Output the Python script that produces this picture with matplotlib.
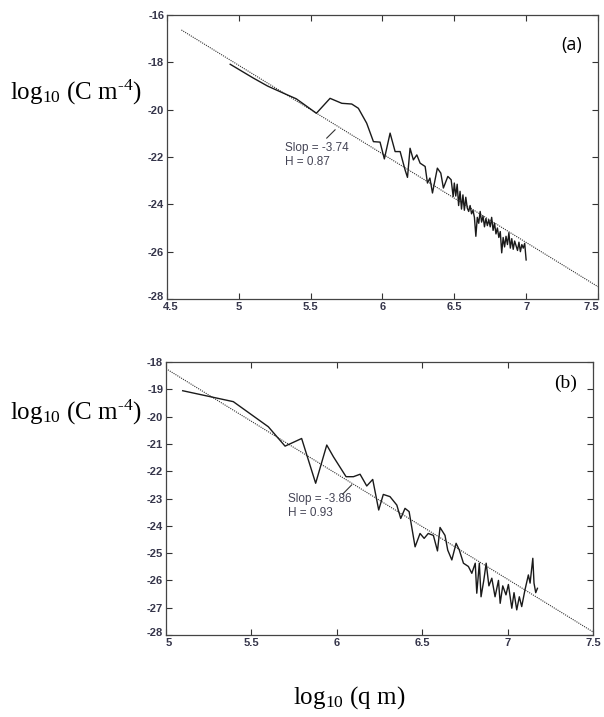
import matplotlib
matplotlib.use("Agg")
import matplotlib.pyplot as plt
import matplotlib.transforms as mtransforms

plt.rcParams['mathtext.fontset'] = 'custom'
plt.rcParams['mathtext.rm'] = 'Liberation Serif'
plt.rcParams['mathtext.it'] = 'Liberation Serif:italic'
plt.rcParams['axes.unicode_minus'] = False

qa = [4.94, 5.10, 5.20, 5.31, 5.40, 5.54, 5.635, 5.717, 5.786, 5.832, 5.89,
      5.937, 5.983, 6.013, 6.053, 6.088, 6.123, 6.157, 6.174, 6.192, 6.215,
      6.239, 6.262, 6.297, 6.313, 6.33, 6.348, 6.366, 6.382, 6.406, 6.424,
      6.455, 6.478, 6.492,
      6.50, 6.51, 6.52, 6.53, 6.54, 6.55, 6.56, 6.57, 6.58, 6.59, 6.60,
      6.61, 6.62, 6.63, 6.64, 6.65, 6.66, 6.67, 6.68, 6.69, 6.70, 6.71,
      6.72, 6.73, 6.74, 6.75, 6.76, 6.77, 6.78, 6.79, 6.80, 6.81, 6.82,
      6.83, 6.84, 6.85, 6.86, 6.87, 6.88, 6.89, 6.90, 6.91, 6.92, 6.93,
      6.94, 6.95, 6.96, 6.97, 6.98, 6.99, 7.00]
ca = [-18.08, -18.66, -19.00, -19.30, -19.54, -20.15, -19.52, -19.73, -19.76,
      -19.94, -20.57, -21.35, -21.37, -22.08, -20.99, -21.77, -21.77, -22.54,
      -22.86, -21.63, -22.12, -21.91, -22.26, -22.40, -23.10, -22.89, -23.52,
      -22.96, -22.47, -22.68, -23.31, -22.82, -22.96, -23.67,
      -23.10, -23.65, -23.15, -24.05, -23.45, -24.20, -23.60, -24.25, -23.70,
      -24.15, -24.30, -24.05, -24.40, -24.25, -24.55, -25.35, -24.55, -24.80,
      -24.30, -24.75, -24.50, -24.95, -24.60, -24.90, -24.65, -24.95, -24.55,
      -25.10, -24.80, -25.25, -25.00, -25.40, -25.15, -26.05, -25.40, -25.80,
      -25.35, -25.70, -25.20, -25.85, -25.45, -25.90, -25.55, -25.75, -25.95,
      -25.60, -26.00, -25.70, -25.85, -25.65, -26.35]

# Panel (b)
qb = [5.098, 5.394, 5.599, 5.697, 5.794, 5.876, 5.941, 5.980, 6.054, 6.097,
      6.136, 6.175, 6.210, 6.245, 6.272, 6.311, 6.351, 6.374, 6.399, 6.423,
      6.458, 6.487, 6.511, 6.535, 6.565, 6.589, 6.604, 6.633, 6.649, 6.673,
      6.698, 6.717, 6.741, 6.770, 6.790, 6.810, 6.819, 6.834, 6.844, 6.860,
      6.874, 6.890, 6.907, 6.926, 6.946, 6.956, 6.971, 6.990, 7.004, 7.024,
      7.037, 7.053, 7.068, 7.082, 7.101, 7.121, 7.131, 7.147, 7.154, 7.164,
      7.174]
cb = [-19.05, -19.45, -20.37, -21.08, -20.80, -22.44, -21.04, -21.47, -22.20,
      -22.20, -22.11, -22.54, -22.30, -23.42, -22.85, -22.93, -23.24, -23.73,
      -23.36, -23.48, -24.77, -24.28, -24.46, -24.28, -24.35, -24.92, -24.06,
      -24.35, -24.89, -25.25, -24.64, -24.89, -25.37, -25.49, -25.74, -25.37,
      -26.47, -25.37, -26.60, -26.00, -25.37, -26.20, -25.92, -26.60, -26.00,
      -26.84, -26.20, -26.53, -26.15, -27.02, -26.45, -27.08, -26.60, -26.96,
      -26.35, -25.80, -26.10, -25.19, -26.10, -26.45, -26.29]

# Fitted lines (end points)
fit_a_x = [4.6, 7.5]
fit_a_y = [-16.63, -27.48]
fit_b_x = [5.0, 7.5]
fit_b_y = [-18.24, -27.89]

tick_color = '#35354a'
ylab = r'log$_{10}$ (C m$^{\text{-4}}$)'


def style_axes(ax):
    ax.tick_params(direction='in', top=True, right=True, length=4,
                   labelsize=8, colors='#333333', labelcolor=tick_color, pad=2)
    for lab in ax.get_xticklabels() + ax.get_yticklabels():
        lab.set_fontweight('bold')
        lab.set_family('Liberation Sans')
    for s in ax.spines.values():
        s.set_color('#444444')
        s.set_linewidth(0.9)


def nudge(fig, label, dx, dy):
    # shift a tick label by a few pixels
    off = mtransforms.ScaledTranslation(dx / 100, dy / 100, fig.dpi_scale_trans)
    label.set_transform(label.get_transform() + off)


fig = plt.figure(figsize=(6.04, 7.17), dpi=100)

# (a)
ax1 = fig.add_axes([0.2765, 0.583, 0.7135, 0.396])
ax1.plot(fit_a_x, fit_a_y, color='#333333', lw=0.8, ls=(0, (1, 1)))
ax1.plot(qa, ca, color='#1a1a1a', lw=1.0)
ax1.set_xlim(4.5, 7.5)
ax1.set_ylim(-28, -16)
ax1.set_xticks([4.5, 5, 5.5, 6, 6.5, 7, 7.5])
ax1.set_xticklabels(['4.5', '5', '5.5', '6', '6.5', '7', '7.5'])
ax1.set_yticks(range(-28, -15, 2))
ax1.plot([5.612, 5.67], [-21.20, -20.85], color='#333333', lw=0.8)
ax1.text(5.32, -21.6, 'Slop = -3.74', fontsize=8.5, color='#444455',
         family='Liberation Sans', va='center')
ax1.text(5.32, -22.22, 'H = 0.87', fontsize=8.5, color='#444455',
         family='Liberation Sans', va='center')
ax1.text(7.32, -17.25, '(a)', fontsize=13, family='Open Sans', ha='center', va='center')
style_axes(ax1)
xl = ax1.get_xticklabels()
nudge(fig, xl[0], 4, 0)
nudge(fig, xl[-1], -7, 0)
nudge(fig, ax1.get_yticklabels()[0], 0, 3)

# (b)
ax2 = fig.add_axes([0.2748, 0.1144, 0.7072, 0.3806])
ax2.plot(fit_b_x, fit_b_y, color='#333333', lw=0.8, ls=(0, (1, 1)))
ax2.plot(qb, cb, color='#1a1a1a', lw=1.0)
ax2.set_xlim(5, 7.5)
ax2.set_ylim(-28, -18)
ax2.set_xticks([5, 5.5, 6, 6.5, 7, 7.5])
ax2.set_xticklabels(['5', '5.5', '6', '6.5', '7', '7.5'])
ax2.set_yticks(range(-28, -17))
ax2.plot([6.034, 6.087], [-22.84, -22.5], color='#333333', lw=0.8)
ax2.text(5.716, -23.03, 'Slop = -3.86', fontsize=8.5, color='#444455',
         family='Liberation Sans', va='center')
ax2.text(5.716, -23.52, 'H = 0.93', fontsize=8.5, color='#444455',
         family='Liberation Sans', va='center')
ax2.text(7.34, -18.78, '(b)', fontsize=14, family='Liberation Serif', ha='center', va='center')
style_axes(ax2)
nudge(fig, ax2.get_xticklabels()[0], 3, 0)
nudge(fig, ax2.get_yticklabels()[0], 0, 3)

# Axis titles as figure text
fig.text(0.126, 1 - 92 / 717, ylab, fontsize=18, family='Liberation Serif',
         ha='center', va='center')
fig.text(0.126, 1 - 412 / 717, ylab, fontsize=18, family='Liberation Serif',
         ha='center', va='center')
fig.text(0.578, 1 - 698 / 717, 'log$_{10}$ (q m)', fontsize=18,
         family='Liberation Serif', ha='center', va='center')

fig.savefig('out.png', dpi=100, facecolor='white')
